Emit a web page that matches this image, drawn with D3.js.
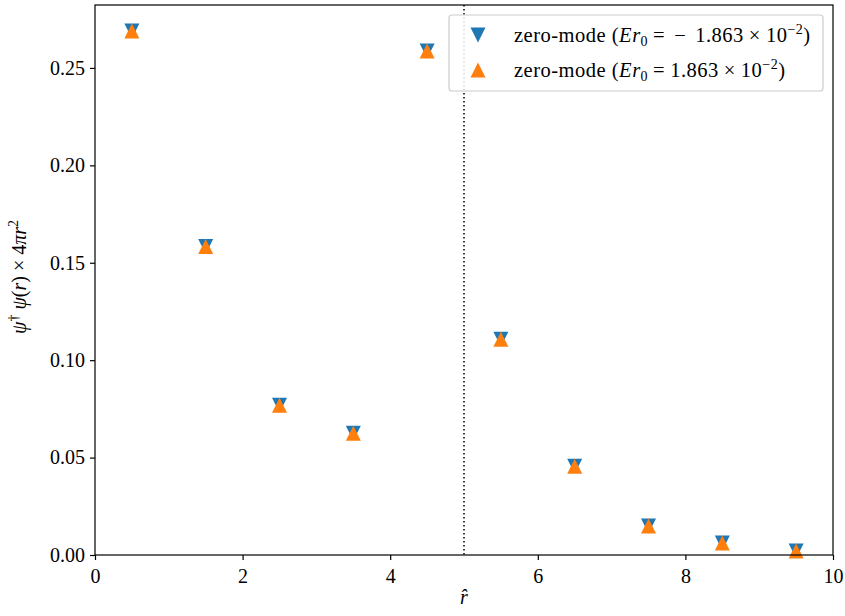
<!DOCTYPE html>
<html><head><meta charset="utf-8">
<script src="https://cdn.jsdelivr.net/npm/d3@7"></script>
<style>body{margin:0;background:#fff}svg{display:block}svg text,svg tspan{font-family:'Liberation Serif',serif !important}</style>
</head><body><svg id="c" width="845" height="616"></svg>
<script>
const rValues = [0.5,1.5,2.5,3.5,4.5,5.5,6.5,7.5,8.5,9.5];
const negE = [0.2690,0.1583,0.0768,0.0625,0.2587,0.1107,0.0456,0.0149,0.0061,0.0020];
const posE = [0.2690,0.1583,0.0768,0.0625,0.2587,0.1107,0.0456,0.0149,0.0061,0.0020];
const xTicks = [0,2,4,6,8,10];
const yTicks = [0,0.05,0.10,0.15,0.20,0.25];
const boundary = 5;

const svg = d3.select("#c");
const m = {l:95, r:833, t:5, b:555};
const x = d3.scaleLinear().domain([0,10]).range([m.l,m.r]);
const y = d3.scaleLinear().domain([0,0.2823]).range([m.b,m.t]);

const xa = svg.append("g").attr("transform",`translate(0,${m.b})`)
  .call(d3.axisBottom(x).tickValues(xTicks).tickFormat(d3.format("d")).tickSizeOuter(0).tickSize(5).tickPadding(5));
const ya = svg.append("g").attr("transform",`translate(${m.l},0)`)
  .call(d3.axisLeft(y).tickValues(yTicks).tickFormat(d3.format(".2f")).tickSizeOuter(0).tickSize(5).tickPadding(5));
[xa,ya].forEach(g=>{g.attr("font-size",20);
  g.select(".domain").remove();g.selectAll("line").attr("stroke","#000").attr("stroke-width",1.2);
  g.selectAll("text").attr("fill","#000");});
xa.selectAll("text").attr("dy","0.9em");

// dotted line
svg.append("line").attr("x1",x(boundary)).attr("x2",x(boundary)).attr("y1",m.t).attr("y2",m.b)
  .attr("stroke","#000").attr("stroke-width",1.5).attr("stroke-dasharray","1.5,2.5");

const h = 7.5;
const down = `M${-h},${-h}L${h},${-h}L0,${h}Z`;
const up = `M${-h},${h}L${h},${h}L0,${-h}Z`;
svg.append("g").selectAll("path").data(rValues).join("path")
  .attr("d",down).attr("fill","#1f77b4")
  .attr("transform",(d,i)=>`translate(${x(d)},${y(negE[i])})`);
svg.append("g").selectAll("path").data(rValues).join("path")
  .attr("d",up).attr("fill","#ff7f0e")
  .attr("transform",(d,i)=>`translate(${x(d)},${y(posE[i])})`);

// frame
svg.append("rect").attr("x",m.l).attr("y",m.t).attr("width",m.r-m.l).attr("height",m.b-m.t)
  .attr("fill","none").attr("stroke","#000").attr("stroke-width",1.2);

// legend
const lg = svg.append("g");
lg.append("rect").attr("x",449).attr("y",15).attr("width",374).attr("height",76).attr("rx",3)
  .attr("fill","#fff").attr("fill-opacity",0.85).attr("stroke","#ccc").attr("stroke-width",1.2);
lg.append("path").attr("d",down).attr("fill","#1f77b4").attr("transform","translate(478,35)");
lg.append("path").attr("d",up).attr("fill","#ff7f0e").attr("transform","translate(478,70)");
function legText(yy, neg){
  const t = lg.append("text").attr("x",514).attr("y",yy).attr("font-size",20.5)
    .attr("letter-spacing",0.5).attr("fill","#000");
  t.append("tspan").text("zero-mode (");
  t.append("tspan").attr("font-style","italic").text("Er");
  t.append("tspan").attr("font-size",14).attr("dy",4).text("0");
  t.append("tspan").attr("dy",-4).attr("dx",5).text("=");
  if (neg) t.append("tspan").attr("dx",9).text("−");
  t.append("tspan").attr("dx",neg?9:5).text("1.863");
  t.append("tspan").attr("dx",5).text("×");
  t.append("tspan").attr("dx",5).text("10");
  t.append("tspan").attr("font-size",14).attr("dy",-8).text("−2");
  t.append("tspan").attr("dy",8).text(")");
}
legText(42,true);
legText(77,false);

// axis labels
const xl = svg.append("text").attr("x",x(5)).attr("y",604).attr("text-anchor","middle").attr("font-size",20);
xl.append("tspan").attr("font-style","italic").text("r̂");
const yl = svg.append("text").attr("transform","translate(26,277) rotate(-90)").attr("text-anchor","middle").attr("font-size",20);
yl.append("tspan").attr("font-style","italic").text("ψ");
yl.append("tspan").attr("font-size",14).attr("dy",-8).text("†");
yl.append("tspan").attr("dy",8).attr("font-style","italic").text(" ψ");
yl.append("tspan").text("(");
yl.append("tspan").attr("font-style","italic").text("r");
yl.append("tspan").text(") × 4");
yl.append("tspan").attr("font-style","italic").text("πr");
yl.append("tspan").attr("font-size",14).attr("dy",-8).text("2");
</script></body></html>
